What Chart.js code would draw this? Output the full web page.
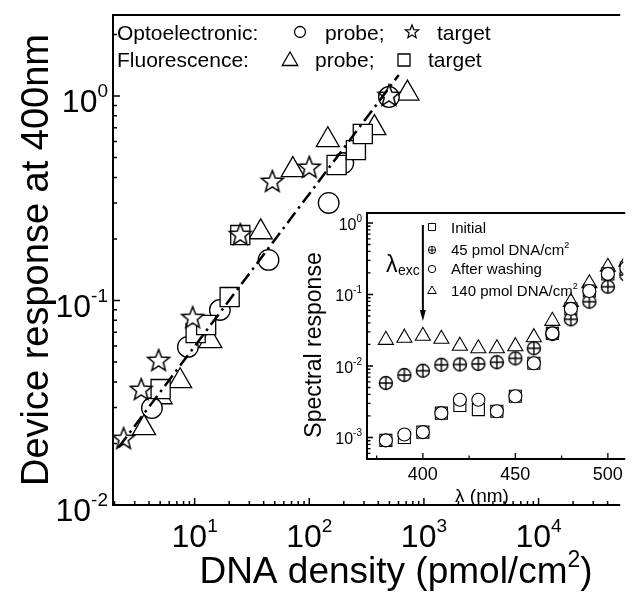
<!DOCTYPE html>
<html><head><meta charset="utf-8">
<script src="https://cdn.jsdelivr.net/npm/chart.js@4/dist/chart.umd.min.js"></script>
<style>
html,body{margin:0;padding:0;background:#fff;}
#wrap{position:relative;width:633px;height:596px;background:#fff;}
#wrap canvas{position:absolute;left:0;top:0;}
</style></head><body>
<div id="wrap"><canvas id="main" width="633" height="596"></canvas><canvas id="inset" width="633" height="596"></canvas></div>
<script>
// ---------------- main chart data ----------------
const optoProbeX  = [4.24, 8.73, 16.6, 44.1, 147.6, 198, 495];
const optoProbeY  = [0.0298, 0.0593, 0.0899, 0.158, 0.300, 0.470, 0.989];
const optoTargetX = [2.40, 3.42, 4.85, 9.61, 25.0, 47.6, 100, 495];
const optoTargetY = [0.0210, 0.0365, 0.0506, 0.082, 0.209, 0.380, 0.445, 1.0];
const fluoProbeX  = [3.62, 5.05, 7.47, 13.7, 37.7, 71.8, 145, 370, 718];
const fluoProbeY  = [0.0238, 0.0337, 0.0404, 0.0634, 0.216, 0.435, 0.609, 0.698, 1.03];
const fluoTargetX = [5.05, 10.2, 12.6, 20.2, 25.0, 173, 255, 293];
const fluoTargetY = [0.0369, 0.0693, 0.0759, 0.104, 0.209, 0.460, 0.544, 0.652];
const fitX = [2.18, 603];
const fitY = [0.0192, 1.267];
const mainXTicks = [10, 100, 1000, 10000];
const mainXTickExp = ['1', '2', '3', '4'];
const mainYTicks = [1, 0.1, 0.01];
const mainYTickExp = ['0', '-1', '-2'];

// ---------------- inset data ----------------
const wavelength  = [380, 390, 400, 410, 420, 430, 440, 450, 460, 470, 480, 490, 500, 510];
const initialResp = [9.1e-4, 1.0e-3, 1.19e-3, 2.19e-3, 2.8e-3, 2.45e-3, 2.33e-3, 3.78e-3, 1.09e-2, 2.86e-2, 6.3e-2, 1.12e-1, 1.94e-1, 2.35e-1];
const pmol45Resp  = [5.78e-3, 7.48e-3, 8.59e-3, 1.04e-2, 1.05e-2, 1.07e-2, 1.13e-2, 1.28e-2, 1.77e-2, 2.8e-2, 4.5e-2, 7.92e-2, 1.285e-1, 1.875e-1];
const washedResp  = [9.1e-4, 1.1e-3, 1.19e-3, 2.19e-3, 3.37e-3, 3.37e-3, 2.33e-3, 3.78e-3, 1.09e-2, 2.86e-2, 6.3e-2, 1.12e-1, 1.94e-1, 2.35e-1];
const pmol140Resp = [2.31e-2, 2.47e-2, 2.63e-2, 2.39e-2, 1.91e-2, 1.76e-2, 1.76e-2, 1.88e-2, 2.51e-2, 4.26e-2, 7.85e-2, 1.426e-1, 2.43e-1, 2.85e-1];
const insetXTicks = [400, 450, 500];
const insetXMinor = [375, 425, 475];
const insetYTicks = [1, 0.1, 0.01, 0.001];
const insetYTickExp = ['0', '-1', '-2', '-3'];

const FF = '"Liberation Sans", Arial, Helvetica, sans-serif';

function pts(xs, ys) { return xs.map((x, i) => ({x: x, y: ys[i]})); }

function markerPath(ctx, type, x, y, r) {
  ctx.beginPath();
  if (type === 'circle' || type === 'cplus') {
    ctx.arc(x, y, r, 0, 2 * Math.PI);
  } else if (type === 'rect') {
    const s = r * Math.SQRT1_2;
    ctx.rect(x - s, y - s, 2 * s, 2 * s);
  } else if (type === 'triangle') {
    for (let i = 0; i < 3; i++) {
      const a = i * 2 * Math.PI / 3;
      ctx.lineTo(x + Math.sin(a) * r, y - Math.cos(a) * r);
    }
    ctx.closePath();
  } else if (type === 'star') {
    for (let i = 0; i < 10; i++) {
      const rr = i % 2 === 0 ? r : r * 0.43;
      const a = -Math.PI / 2 + i * Math.PI / 5;
      ctx.lineTo(x + rr * Math.cos(a), y + rr * Math.sin(a));
    }
    ctx.closePath();
  }
}
function drawMarker(ctx, type, x, y, r, lw) {
  ctx.save();
  ctx.lineWidth = lw; ctx.strokeStyle = '#000'; ctx.fillStyle = '#fff';
  markerPath(ctx, type, x, y, r);
  ctx.fill(); ctx.stroke();
  if (type === 'cplus') {
    ctx.beginPath();
    ctx.moveTo(x - r, y); ctx.lineTo(x + r, y);
    ctx.moveTo(x, y - r); ctx.lineTo(x, y + r);
    ctx.stroke();
  }
  ctx.restore();
}
function markerCanvas(type, r, lw) {
  const s = Math.ceil(2 * r + 2 * lw + 2);
  const c = document.createElement('canvas');
  c.width = s; c.height = s;
  drawMarker(c.getContext('2d'), type, s / 2, s / 2, r, lw);
  return c;
}

function supText(ctx, base, sup, x, y, bf, sf, rise, align) {
  ctx.font = bf; const wb = ctx.measureText(base).width;
  ctx.font = sf; const ws = ctx.measureText(sup).width;
  const tot = wb + ws;
  const x0 = align === 'right' ? x - tot : (align === 'center' ? x - tot / 2 : x);
  ctx.textAlign = 'left'; ctx.textBaseline = 'alphabetic'; ctx.fillStyle = '#000';
  ctx.font = bf; ctx.fillText(base, x0, y);
  ctx.font = sf; ctx.fillText(sup, x0 + wb, y - rise);
  return x0 + tot;
}
function logMinors(min, max) {
  const out = [];
  for (let e = Math.floor(Math.log10(min)); e <= Math.ceil(Math.log10(max)); e++) {
    for (let m = 2; m <= 9; m++) {
      const v = m * Math.pow(10, e);
      if (v >= min && v <= max) out.push(v);
    }
  }
  return out;
}

// ---------------- main chart ----------------
const mainAxes = {
  id: 'mainAxes',
  afterDraw(chart) {
    const ctx = chart.ctx, a = chart.chartArea;
    const xs = chart.scales.x, ys = chart.scales.y;
    ctx.save();
    ctx.strokeStyle = '#000'; ctx.lineWidth = 2;
    ctx.beginPath();
    ctx.moveTo(a.left, a.bottom); ctx.lineTo(a.left, a.top); ctx.lineTo(a.right + 2, a.top);
    ctx.moveTo(a.left - 1, a.bottom); ctx.lineTo(a.right + 2, a.bottom);
    ctx.stroke();
    ctx.lineWidth = 1.5;
    ctx.beginPath();
    mainXTicks.forEach(v => { const p = xs.getPixelForValue(v); ctx.moveTo(p, a.bottom); ctx.lineTo(p, a.bottom - 7); });
    logMinors(xs.min, xs.max).forEach(v => { const p = xs.getPixelForValue(v); ctx.moveTo(p, a.bottom); ctx.lineTo(p, a.bottom - 4); });
    mainYTicks.forEach(v => { const p = ys.getPixelForValue(v); ctx.moveTo(a.left, p); ctx.lineTo(a.left + 7, p); });
    logMinors(ys.min, ys.max).forEach(v => { const p = ys.getPixelForValue(v); ctx.moveTo(a.left, p); ctx.lineTo(a.left + 4, p); });
    ctx.stroke();
    // tick labels
    const bf = '32px ' + FF, sf = '19px ' + FF;
    mainXTicks.forEach((v, i) => supText(ctx, '10', mainXTickExp[i], xs.getPixelForValue(v), 547, bf, sf, 15, 'center'));
    mainYTicks.forEach((v, i) => supText(ctx, '10', mainYTickExp[i], 108, ys.getPixelForValue(v) + 16, bf, sf, 15, 'right'));
    // axis titles
    ctx.font = '37px ' + FF;
    const t1 = 'DNA density (pmol/cm', t2 = '2', t3 = ')';
    const w1 = ctx.measureText(t1).width, w3 = ctx.measureText(t3).width;
    ctx.font = '23px ' + FF; const w2 = ctx.measureText(t2).width;
    let x0 = 396 - (w1 + w2 + w3) / 2;
    ctx.textAlign = 'left'; ctx.fillStyle = '#000';
    ctx.font = '37px ' + FF; ctx.fillText(t1, x0, 583);
    ctx.font = '23px ' + FF; ctx.fillText(t2, x0 + w1, 583 - 16);
    ctx.font = '37px ' + FF; ctx.fillText(t3, x0 + w1 + w2, 583);
    ctx.save();
    ctx.translate(48, 260); ctx.rotate(-Math.PI / 2);
    ctx.textAlign = 'center'; ctx.font = '38px ' + FF;
    ctx.fillText('Device response at 400nm', 0, 0);
    ctx.restore();
    // legend
    ctx.font = '21px ' + FF; ctx.textAlign = 'left';
    ctx.fillText('Optoelectronic:', 117, 40);
    drawMarker(ctx, 'circle', 300, 32, 5.5, 1.3);
    ctx.fillText('probe;', 325, 40);
    drawMarker(ctx, 'star', 412, 32, 7, 1.2);
    ctx.fillText('target', 437, 40);
    ctx.fillText('Fluorescence:', 117, 67);
    drawMarker(ctx, 'triangle', 290, 61, 9, 1.3);
    ctx.fillText('probe;', 315, 67);
    drawMarker(ctx, 'rect', 404, 60, 8.5, 1.3);
    ctx.fillText('target', 428, 67);
    ctx.restore();
  }
};

const starImg = markerCanvas('star', 11.5, 1.5);
const cplusImg = markerCanvas('cplus', 6.5, 1.4);

const common = {
  responsive: false, animation: false, devicePixelRatio: 1, events: [],
  plugins: {legend: {display: false}, tooltip: {enabled: false}, title: {display: false}}
};

new Chart(document.getElementById('main'), {
  type: 'scatter',
  data: {datasets: [
    {type: 'line', data: pts(fitX, fitY), borderColor: '#000', borderWidth: 2.5, borderDash: [13, 5, 2.5, 5], pointRadius: 0, fill: false},
    {data: pts(optoTargetX, optoTargetY), pointStyle: starImg},
    {data: pts(fluoTargetX, fluoTargetY), pointStyle: 'rect', pointRadius: 13.5},
    {data: pts(optoProbeX, optoProbeY), pointStyle: 'circle', pointRadius: 10.3},
    {data: pts(fluoProbeX, fluoProbeY), pointStyle: 'triangle', pointRadius: 13.3}
  ].map((d, i) => Object.assign({pointBackgroundColor: '#fff', pointBorderColor: '#000', pointBorderWidth: 1.3, showLine: i === 0}, d))},
  options: Object.assign({}, common, {
    layout: {padding: {left: 113, right: 0, top: 15, bottom: 91}},
    scales: {
      x: {type: 'logarithmic', min: 1.94, max: 49500, bounds: 'data', display: false},
      y: {type: 'logarithmic', min: 0.01, max: 2.49, bounds: 'data', display: false}
    }
  }),
  plugins: [mainAxes]
});

// ---------------- inset chart ----------------
const insetAxes = {
  id: 'insetAxes',
  afterDraw(chart) {
    const ctx = chart.ctx, a = chart.chartArea;
    const xs = chart.scales.x, ys = chart.scales.y;
    ctx.save();
    ctx.strokeStyle = '#000'; ctx.fillStyle = '#000'; ctx.lineWidth = 2;
    ctx.beginPath();
    ctx.moveTo(a.left, a.bottom); ctx.lineTo(a.left, a.top); ctx.lineTo(a.right + 2, a.top);
    ctx.moveTo(a.left - 1, a.bottom); ctx.lineTo(a.right + 2, a.bottom);
    ctx.stroke();
    ctx.lineWidth = 1.3;
    ctx.beginPath();
    insetXTicks.forEach(v => { const p = xs.getPixelForValue(v); ctx.moveTo(p, a.bottom); ctx.lineTo(p, a.bottom - 6); });
    insetXMinor.forEach(v => { const p = xs.getPixelForValue(v); ctx.moveTo(p, a.bottom); ctx.lineTo(p, a.bottom - 3.5); });
    insetYTicks.forEach(v => { const p = ys.getPixelForValue(v); ctx.moveTo(a.left, p); ctx.lineTo(a.left + 6, p); });
    logMinors(ys.min, ys.max).forEach(v => { const p = ys.getPixelForValue(v); ctx.moveTo(a.left, p); ctx.lineTo(a.left + 3.5, p); });
    ctx.stroke();
    ctx.font = '18px ' + FF; ctx.textAlign = 'center';
    insetXTicks.forEach(v => ctx.fillText(String(v), xs.getPixelForValue(v), 480));
    insetYTicks.forEach((v, i) => supText(ctx, '10', insetYTickExp[i], 362, ys.getPixelForValue(v) + 7, '16px ' + FF, '10px ' + FF, 8, 'right'));
    // titles
    ctx.textAlign = 'center'; ctx.font = '19px ' + FF;
    ctx.fillText('\u03bb (nm)', 482, 502);
    ctx.save();
    ctx.translate(321, 345); ctx.rotate(-Math.PI / 2);
    ctx.font = '23px ' + FF; ctx.fillText('Spectral response', 0, 0);
    ctx.restore();
    // arrow
    const ax = xs.getPixelForValue(400);
    ctx.lineWidth = 2;
    ctx.beginPath(); ctx.moveTo(ax, 225); ctx.lineTo(ax, 312); ctx.stroke();
    ctx.beginPath(); ctx.moveTo(ax - 3, 310); ctx.lineTo(ax + 3, 310); ctx.lineTo(ax, 321); ctx.closePath(); ctx.fill();
    ctx.textAlign = 'left';
    ctx.font = '23px ' + FF; ctx.fillText('\u03bb', 386, 272);
    ctx.font = '14px ' + FF; ctx.fillText('exc', 398, 275);
    // legend
    drawMarker(ctx, 'rect', 432, 227, 5, 1);
    drawMarker(ctx, 'cplus', 432, 250, 3.7, 1);
    drawMarker(ctx, 'circle', 432, 269, 3.7, 1);
    drawMarker(ctx, 'triangle', 432, 291, 5, 1);
    ctx.font = '15px ' + FF;
    ctx.fillText('Initial', 451, 233);
    supText(ctx, '45 pmol DNA/cm', '2', 451, 255, '15px ' + FF, '9px ' + FF, 7, 'left');
    ctx.font = '15px ' + FF; ctx.fillText('After washing', 451, 274);
    supText(ctx, '140 pmol DNA/cm', '2', 451, 296, '15px ' + FF, '9px ' + FF, 7, 'left');
    ctx.restore();
  }
};

new Chart(document.getElementById('inset'), {
  type: 'scatter',
  data: {datasets: [
    {data: pts(wavelength, washedResp), pointStyle: 'circle', pointRadius: 6.5},
    {data: pts(wavelength, pmol45Resp), pointStyle: cplusImg},
    {data: pts(wavelength, initialResp), pointStyle: 'rect', pointRadius: 8.5},
    {data: pts(wavelength, pmol140Resp), pointStyle: 'triangle', pointRadius: 8.7}
  ].map(d => Object.assign({pointBackgroundColor: '#fff', pointBorderColor: '#000', pointBorderWidth: 1.1, showLine: false}, d))},
  options: Object.assign({}, common, {
    layout: {padding: {left: 367, right: 0, top: 213, bottom: 137}},
    scales: {
      x: {type: 'linear', min: 369.8, max: 508.3, bounds: 'data', display: false},
      y: {type: 'logarithmic', min: 5.0e-4, max: 1.38, bounds: 'data', display: false}
    }
  }),
  plugins: [insetAxes]
});
</script>
</body></html>
